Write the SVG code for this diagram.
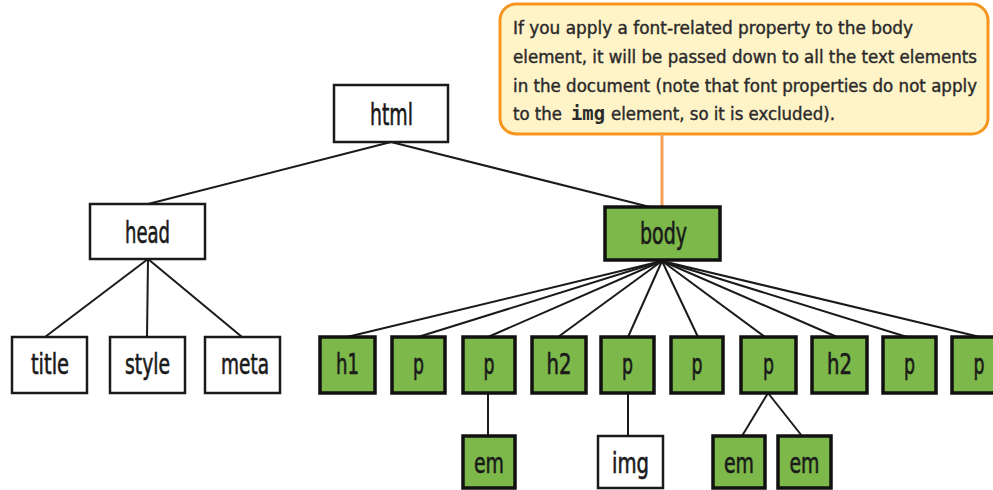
<svg xmlns="http://www.w3.org/2000/svg" width="993" height="490" viewBox="0 0 993 490">
<style>
.w{fill:#ffffff;stroke:#1a1a1a;stroke-width:2.5}
.g{fill:#7db84a;stroke:#111111;stroke-width:3.5}
.t{font-family:"DejaVu Sans Condensed","DejaVu Sans","Liberation Sans",sans-serif;fill:#1a1a1a;stroke:#1a1a1a;stroke-width:0.6;text-anchor:middle}
.big{font-size:31px}
.sm{font-size:28px}
.c{font-family:"DejaVu Sans Condensed","DejaVu Sans","Liberation Sans",sans-serif;font-size:18.5px;fill:#2a2a2a;stroke:#2a2a2a;stroke-width:0.4}
.m{font-family:"DejaVu Sans Mono","Liberation Mono",monospace;font-size:19px;font-weight:bold;fill:#2a2a2a}
.ln{stroke:#1a1a1a;stroke-width:2;fill:none}
</style>
<g id="callout">
<rect x="500" y="4" width="488" height="130" rx="16" ry="16" fill="#fff3c8" stroke="#f7941d" stroke-width="3"/>
<line x1="662" y1="134" x2="662" y2="206" stroke="#f7a05a" stroke-width="3"/>
<text class="c" x="513" y="34" textLength="400" lengthAdjust="spacingAndGlyphs">If you apply a font-related property to the body</text>
<text class="c" x="513" y="63" textLength="464" lengthAdjust="spacingAndGlyphs">element, it will be passed down to all the text elements</text>
<text class="c" x="513" y="92" textLength="464" lengthAdjust="spacingAndGlyphs">in the document (note that font properties do not apply</text>
<text class="c" x="513" y="120" textLength="49" lengthAdjust="spacingAndGlyphs">to the</text>
<text class="m" x="571" y="120" textLength="34" lengthAdjust="spacingAndGlyphs">img</text>
<text class="c" x="611" y="120" textLength="224" lengthAdjust="spacingAndGlyphs">element, so it is excluded).</text>
</g>
<g id="connectors">
<line class="ln" x1="391" y1="142" x2="148" y2="204"/>
<line class="ln" x1="391" y1="142" x2="650" y2="207"/>
<line class="ln" x1="148" y1="259" x2="45" y2="337"/>
<line class="ln" x1="148" y1="259" x2="147" y2="337"/>
<line class="ln" x1="148" y1="259" x2="242" y2="337"/>
<line class="ln" x1="662" y1="261" x2="347" y2="337"/>
<line class="ln" x1="662" y1="261" x2="418" y2="337"/>
<line class="ln" x1="662" y1="261" x2="488" y2="337"/>
<line class="ln" x1="662" y1="261" x2="558" y2="337"/>
<line class="ln" x1="662" y1="261" x2="628" y2="337"/>
<line class="ln" x1="662" y1="261" x2="698" y2="337"/>
<line class="ln" x1="662" y1="261" x2="765" y2="337"/>
<line class="ln" x1="662" y1="261" x2="837" y2="337"/>
<line class="ln" x1="662" y1="261" x2="907" y2="337"/>
<line class="ln" x1="662" y1="261" x2="980" y2="337"/>
<line class="ln" x1="488" y1="393" x2="488" y2="436"/>
<line class="ln" x1="628" y1="393" x2="628" y2="436"/>
<line class="ln" x1="768" y1="393" x2="742" y2="436"/>
<line class="ln" x1="768" y1="393" x2="802" y2="436"/>
</g>
<g id="n-html"><rect class="w" x="334" y="85" width="114" height="57"/><text class="t big" x="391.5" y="125" textLength="43" lengthAdjust="spacingAndGlyphs">html</text></g>
<g id="n-head"><rect class="w" x="90" y="204" width="115" height="55"/><text class="t big" x="147.5" y="243" textLength="45" lengthAdjust="spacingAndGlyphs">head</text></g>
<g id="n-body"><rect class="g" x="605" y="207" width="115" height="53" stroke-width="4"/><text class="t big" x="663.5" y="244" textLength="47" lengthAdjust="spacingAndGlyphs">body</text></g>
<g id="n-title"><rect class="w" x="12" y="337" width="75" height="56"/><text class="t sm" x="50" y="374" textLength="38" lengthAdjust="spacingAndGlyphs">title</text></g>
<g id="n-style"><rect class="w" x="110" y="337" width="75" height="56"/><text class="t sm" x="147.5" y="374" textLength="45" lengthAdjust="spacingAndGlyphs">style</text></g>
<g id="n-meta"><rect class="w" x="205" y="337" width="75" height="56"/><text class="t sm" x="245" y="374" textLength="48" lengthAdjust="spacingAndGlyphs">meta</text></g>
<g id="n-h1"><rect class="g" x="320" y="337" width="55" height="56"/><text class="t sm" x="347.5" y="374" textLength="23" lengthAdjust="spacingAndGlyphs">h1</text></g>
<g id="n-p1"><rect class="g" x="392" y="337" width="53" height="56"/><text class="t sm" x="418.5" y="374" textLength="11" lengthAdjust="spacingAndGlyphs">p</text></g>
<g id="n-p2"><rect class="g" x="463" y="337" width="52" height="56"/><text class="t sm" x="489" y="374" textLength="11" lengthAdjust="spacingAndGlyphs">p</text></g>
<g id="n-h2a"><rect class="g" x="532" y="337" width="54" height="56"/><text class="t sm" x="559" y="374" textLength="25" lengthAdjust="spacingAndGlyphs">h2</text></g>
<g id="n-p3"><rect class="g" x="601" y="337" width="53" height="56"/><text class="t sm" x="627.5" y="374" textLength="11" lengthAdjust="spacingAndGlyphs">p</text></g>
<g id="n-p4"><rect class="g" x="671" y="337" width="52" height="56"/><text class="t sm" x="697" y="374" textLength="11" lengthAdjust="spacingAndGlyphs">p</text></g>
<g id="n-p5"><rect class="g" x="741" y="337" width="55" height="56"/><text class="t sm" x="768.5" y="374" textLength="11" lengthAdjust="spacingAndGlyphs">p</text></g>
<g id="n-h2b"><rect class="g" x="812" y="337" width="55" height="56"/><text class="t sm" x="839.5" y="374" textLength="25" lengthAdjust="spacingAndGlyphs">h2</text></g>
<g id="n-p6"><rect class="g" x="883" y="337" width="53" height="56"/><text class="t sm" x="909.5" y="374" textLength="11" lengthAdjust="spacingAndGlyphs">p</text></g>
<g id="n-p7"><rect class="g" x="952" y="337" width="54" height="56"/><text class="t sm" x="979" y="374" textLength="11" lengthAdjust="spacingAndGlyphs">p</text></g>
<g id="n-em1"><rect class="g" x="463" y="436" width="52" height="52"/><text class="t sm" x="489" y="473" textLength="30" lengthAdjust="spacingAndGlyphs">em</text></g>
<g id="n-img"><rect class="w" x="598" y="436" width="65" height="52"/><text class="t sm" x="630.5" y="473" textLength="37" lengthAdjust="spacingAndGlyphs">img</text></g>
<g id="n-em2"><rect class="g" x="713" y="436" width="52" height="52"/><text class="t sm" x="739" y="473" textLength="30" lengthAdjust="spacingAndGlyphs">em</text></g>
<g id="n-em3"><rect class="g" x="778" y="436" width="53" height="52"/><text class="t sm" x="804.5" y="473" textLength="30" lengthAdjust="spacingAndGlyphs">em</text></g>
</svg>
